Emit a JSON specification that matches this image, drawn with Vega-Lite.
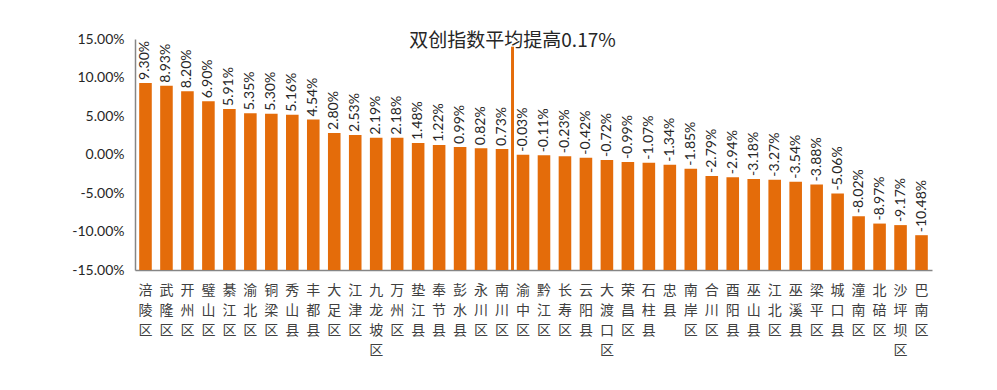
{
  "$schema": "https://vega.github.io/schema/vega-lite/v6.json",
  "autosize": "none",
  "width": 797,
  "height": 231,
  "padding": {"left": 135, "top": 39, "right": 65, "bottom": 120},
  "background": "white",
  "config": {
    "view": {"stroke": null},
    "axisY": {"labelOverlap": false},
    "locale": {"number": {"decimal": ".", "thousands": ",", "grouping": [3], "currency": ["", ""], "minus": "-", "percent": "%"}}
  },
  "data": {
    "values": [
      {"name": "涪陵区", "v": 0.093},
      {"name": "武隆区", "v": 0.0893},
      {"name": "开州区", "v": 0.082},
      {"name": "璧山区", "v": 0.069},
      {"name": "綦江区", "v": 0.0591},
      {"name": "渝北区", "v": 0.0535},
      {"name": "铜梁区", "v": 0.053},
      {"name": "秀山县", "v": 0.0516},
      {"name": "丰都县", "v": 0.0454},
      {"name": "大足区", "v": 0.028},
      {"name": "江津区", "v": 0.0253},
      {"name": "九龙坡区", "v": 0.0219},
      {"name": "万州区", "v": 0.0218},
      {"name": "垫江县", "v": 0.0148},
      {"name": "奉节县", "v": 0.0122},
      {"name": "彭水县", "v": 0.0099},
      {"name": "永川区", "v": 0.0082},
      {"name": "南川区", "v": 0.0073},
      {"name": "渝中区", "v": -0.0003},
      {"name": "黔江区", "v": -0.0011},
      {"name": "长寿区", "v": -0.0023},
      {"name": "云阳县", "v": -0.0042},
      {"name": "大渡口区", "v": -0.0072},
      {"name": "荣昌区", "v": -0.0099},
      {"name": "石柱县", "v": -0.0107},
      {"name": "忠县", "v": -0.0134},
      {"name": "南岸区", "v": -0.0185},
      {"name": "合川区", "v": -0.0279},
      {"name": "酉阳县", "v": -0.0294},
      {"name": "巫山县", "v": -0.0318},
      {"name": "江北区", "v": -0.0327},
      {"name": "巫溪县", "v": -0.0354},
      {"name": "梁平区", "v": -0.0388},
      {"name": "城口县", "v": -0.0506},
      {"name": "潼南区", "v": -0.0802},
      {"name": "北碚区", "v": -0.0897},
      {"name": "沙坪坝区", "v": -0.0917},
      {"name": "巴南区", "v": -0.1048}
    ]
  },
  "encoding": {
    "x": {
      "field": "name",
      "type": "nominal",
      "sort": null,
      "scale": {"paddingInner": 0.4, "paddingOuter": 0.2},
      "axis": {
        "title": null,
        "ticks": false,
        "domainColor": "#868686",
        "domainWidth": 1.5,
        "labelAngle": 0,
        "labelExpr": "split(datum.label, '')",
        "labelFont": "Noto Sans CJK SC",
        "labelFontSize": 14,
        "labelColor": "#404040",
        "labelLineHeight": 20,
        "labelBaseline": "top",
        "labelPadding": 13,
        "labelOverlap": false
      }
    },
    "y": {
      "field": "v",
      "type": "quantitative",
      "scale": {"domain": [-0.15, 0.15], "nice": false, "zero": false},
      "axis": {
        "title": null,
        "format": ".2%",
        "values": [-0.15, -0.1, -0.05, 0, 0.05, 0.1, 0.15],
        "grid": false,
        "ticks": false,
        "domainColor": "#868686",
        "domainWidth": 1.5,
        "labelFont": "Lato",
        "labelFontSize": 14,
        "labelColor": "#262626",
        "labelPadding": 11,
        "labelOverlap": false,
        "labelFlush": false
      }
    }
  },
  "layer": [
    {
      "mark": {"type": "bar", "color": "#E46C0A"},
      "encoding": {
        "y2": {"datum": -0.15}
      }
    },
    {
      "mark": {"type": "text", "angle": 270, "align": "left", "baseline": "middle", "dx": 3, "font": "Lato", "fontSize": 14, "color": "#262626"},
      "encoding": {
        "text": {"field": "v", "format": ".2%"}
      }
    },
    {
      "data": {"values": [{"name": "渝中区", "v": 0.14, "label": "双创指数平均提高0.17%"}]},
      "layer": [
        {
          "mark": {"type": "rule", "color": "#E46C0A", "strokeWidth": 3},
          "encoding": {
            "x": {"field": "name", "type": "nominal", "bandPosition": -0.333},
            "y2": {"datum": -0.15}
          }
        },
        {
          "mark": {"type": "text", "align": "center", "baseline": "middle", "dy": -6, "font": "Noto Sans CJK SC", "fontSize": 19, "color": "#262626"},
          "encoding": {
            "x": {"field": "name", "type": "nominal", "bandPosition": -0.333},
            "text": {"field": "label"}
          }
        }
      ]
    }
  ]
}
